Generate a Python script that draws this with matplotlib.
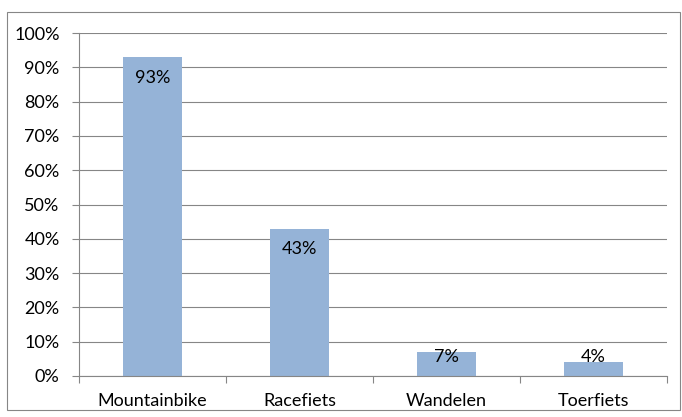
import matplotlib
matplotlib.use("Agg")
import matplotlib.pyplot as plt
from matplotlib.patches import Rectangle
from matplotlib.ticker import FixedLocator, PercentFormatter

categories = ["Mountainbike", "Racefiets", "Wandelen", "Toerfiets"]
shares = [93, 43, 7, 4]
y_ticks = list(range(0, 101, 10))

plt.rcParams["font.family"] = ["Lato", "DejaVu Sans"]
GRID = "#868686"
BAR = "#95B3D7"
FS = 13

fig = plt.figure(figsize=(6.82, 4.17), dpi=100)
fig.patches.append(Rectangle((7 / 682, 7 / 417), 673 / 682, 398 / 417,
                             transform=fig.transFigure, fill=False,
                             edgecolor=GRID, linewidth=0.8))
ax = fig.add_axes([79 / 682, 41 / 417, 588 / 682, 343 / 417])

x = range(len(categories))
ax.bar(x, shares, width=0.4, color=BAR, zorder=2)

# data labels sit just inside the bar top, but never drop below the axis
for xi, v in zip(x, shares):
    ax.text(xi, max(v - 6.1, 5.5), f"{v}%", ha="center", va="center",
            fontsize=FS, color="black", zorder=3)

ax.set_xlim(-0.5, len(categories) - 0.5)
ax.set_ylim(0, 100)
ax.set_yticks(y_ticks)
ax.yaxis.set_major_formatter(PercentFormatter(decimals=0))
ax.yaxis.grid(True, color=GRID, linewidth=0.8, zorder=0)
ax.set_axisbelow(True)

ax.set_xticks(list(x))
ax.set_xticklabels(categories)
ax.xaxis.set_minor_locator(FixedLocator([i - 0.5 for i in range(len(categories) + 1)]))
ax.tick_params(axis="x", which="major", length=0, pad=12, labelsize=FS)
ax.tick_params(axis="x", which="minor", length=5, color=GRID, width=0.8)
ax.tick_params(axis="y", length=5, color=GRID, width=0.8, labelsize=FS, pad=9)

for side in ("top", "right"):
    ax.spines[side].set_visible(False)
for side in ("left", "bottom"):
    ax.spines[side].set_color(GRID)
    ax.spines[side].set_linewidth(0.8)

fig.savefig("out.png", dpi=100, facecolor="white")
